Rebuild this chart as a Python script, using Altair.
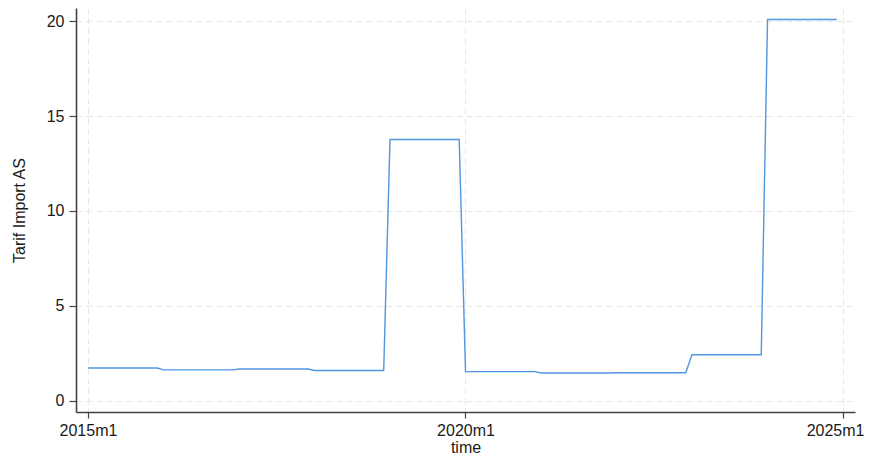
import altair as alt
import pandas as pd

# Monthly tariff values, 2015m1 .. 2024m12 (step series)
years = [2015, 2016, 2017, 2018, 2019, 2020, 2021, 2022, 2023, 2024]
tariff_2015 = [1.72] * 12
tariff_2016 = [1.62] * 12
tariff_2017 = [1.67] * 12
tariff_2018 = [1.59] * 12
tariff_2019 = [13.77] * 12
tariff_2020 = [1.53] * 12
tariff_2021 = [1.46] * 12
tariff_2022 = [1.47] * 12
tariff_2023 = [2.42] * 12
tariff_2024 = [20.09] * 12

tariff = (tariff_2015 + tariff_2016 + tariff_2017 + tariff_2018 + tariff_2019
          + tariff_2020 + tariff_2021 + tariff_2022 + tariff_2023 + tariff_2024)
month_index = list(range(len(tariff)))  # 0 = 2015m1
x_tick_values = [0, 60, 120]
y_tick_values = [0, 5, 10, 15, 20]

df = pd.DataFrame({"t": month_index, "tariff": tariff})

FONT = "Liberation Sans, Arial, sans-serif"

chart = (
    alt.Chart(df)
    .mark_line(color="#5096e2", strokeWidth=1.4)
    .encode(
        x=alt.X(
            "t:Q",
            title="time",
            scale=alt.Scale(domain=[-1.9, 121.9], nice=False, zero=False),
            axis=alt.Axis(
                values=x_tick_values,
                labelExpr="(2015 + floor(datum.value / 12)) + 'm' + (datum.value % 12 + 1)",
                labelOffset={"condition": {"test": "datum.value == 120", "value": -8}, "value": 0},
                tickSize=6,
                labelPadding=4,
                titleY=43,
                titleBaseline="bottom",
                gridDash=[6, 4],
                gridColor="#e6e6e6",
                gridWidth=1,
            ),
        ),
        y=alt.Y(
            "tariff:Q",
            title="Tarif Import AS",
            scale=alt.Scale(domain=[-0.6, 20.7], nice=False, zero=False),
            axis=alt.Axis(
                values=y_tick_values,
                tickSize=7,
                labelPadding=5,
                titlePadding=19,
                gridDash=[6, 4],
                gridColor="#e6e6e6",
                gridWidth=1,
            ),
        ),
    )
    .properties(
        width=779,
        height=404,
        autosize=alt.AutoSizeParams(type="none"),
        padding={"left": 68, "top": 0, "right": 9, "bottom": 43},
        background="white",
    )
    .configure_view(stroke=None)
    .configure_axis(
        labelFont=FONT,
        titleFont=FONT,
        labelFontSize=16,
        titleFontSize=16,
        titleFontWeight="normal",
        labelColor="#1a1a1a",
        titleColor="#1a1a1a",
        domainColor="#444444",
        domainWidth=1.6,
        tickColor="#444444",
        tickWidth=1.2,
    )
)

chart.save("out.html", embed_options={"renderer": "svg", "actions": False})
